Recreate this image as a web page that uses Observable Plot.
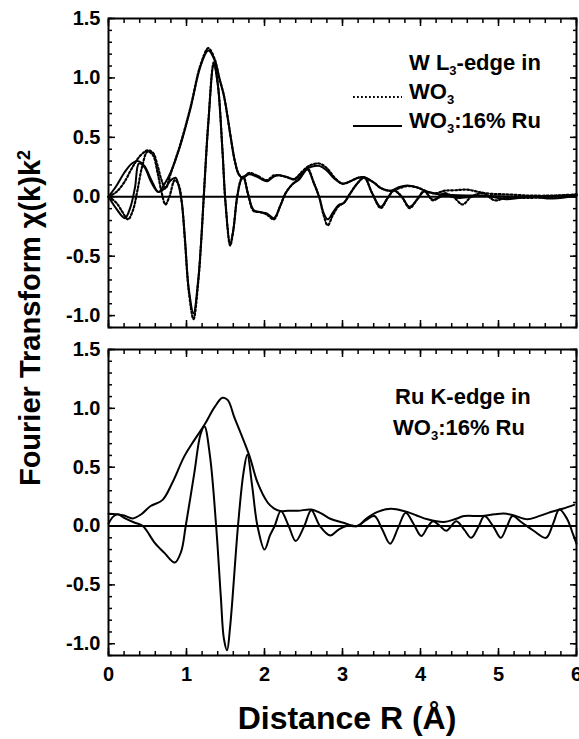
<!DOCTYPE html>
<html><head><meta charset="utf-8">
<script src="https://cdn.jsdelivr.net/npm/d3@7"></script>
<script src="https://cdn.jsdelivr.net/npm/@observablehq/plot@0.6"></script>
<style>
body{margin:0;background:#fff;}
#wrap{position:relative;width:579px;height:739px;font-family:"Liberation Sans",Arial,sans-serif;font-weight:bold;color:#000;overflow:hidden;}
.abs{position:absolute;white-space:nowrap;}
.ann{font-size:22px;line-height:1;}
.ann sub{font-size:13px;vertical-align:-5px;line-height:0;}
</style></head><body><div id="wrap"></div>
<script>
// ---------- data (R in Å, FT value) ----------
const xTicks = [0, 1, 2, 3, 4, 5, 6];
const yTicks = [-1.0, -0.5, 0.0, 0.5, 1.0, 1.5];

// Top panel: W L3-edge, WO3:16% Ru (solid) magnitude and imaginary part
const wRuMag = [[0,0.0],[0.1,0.09],[0.2,0.2],[0.3,0.28],[0.38,0.30],[0.46,0.26],[0.55,0.14],[0.64,0.04],[0.72,0.11],[0.8,0.21],[0.92,0.43],[1.05,0.74],[1.18,1.10],[1.28,1.23],[1.36,1.15],[1.42,1.0],[1.48,0.85],[1.52,0.7],[1.56,0.53],[1.62,0.30],[1.67,0.19],[1.72,0.16],[1.8,0.19],[1.9,0.17],[2.03,0.13],[2.12,0.17],[2.2,0.18],[2.3,0.165],[2.38,0.145],[2.48,0.2],[2.57,0.245],[2.7,0.26],[2.8,0.22],[2.9,0.15],[3.0,0.11],[3.1,0.13],[3.2,0.16],[3.28,0.165],[3.4,0.12],[3.5,0.07],[3.62,0.05],[3.72,0.08],[3.83,0.095],[3.95,0.08],[4.1,0.04],[4.25,0.02],[4.4,0.015],[4.7,0.01],[5.0,0.005],[5.3,0.0],[5.6,0.005],[5.85,0.01],[6.0,0.02]];
const wRuIm = [[0,0],[0.1,-0.1],[0.21,-0.18],[0.28,-0.09],[0.34,0.08],[0.39,0.28],[0.46,0.25],[0.55,0.12],[0.64,0.04],[0.72,0.07],[0.8,0.14],[0.86,0.16],[0.9,0.09],[0.94,-0.05],[0.98,-0.35],[1.03,-0.78],[1.09,-0.98],[1.15,-0.7],[1.19,-0.35],[1.23,0.1],[1.28,0.62],[1.35,1.11],[1.4,0.95],[1.46,0.4],[1.5,-0.05],[1.56,-0.40],[1.6,-0.28],[1.65,0.0],[1.7,0.14],[1.73,0.16],[1.79,0.02],[1.86,-0.11],[1.95,-0.13],[2.03,-0.14],[2.12,-0.18],[2.2,-0.08],[2.27,0.03],[2.35,0.1],[2.45,0.15],[2.55,0.23],[2.63,0.12],[2.7,0.0],[2.76,-0.14],[2.81,-0.19],[2.88,-0.13],[2.95,-0.07],[3.02,-0.05],[3.1,0.03],[3.2,0.12],[3.28,0.165],[3.38,0.03],[3.49,-0.085],[3.58,-0.01],[3.66,0.055],[3.76,0.0],[3.86,-0.085],[3.96,-0.02],[4.05,0.045],[4.16,-0.025],[4.3,0.01],[4.5,-0.01],[4.8,0.01],[5.1,-0.02],[5.4,0.0],[5.7,-0.015],[6.0,0.01]];

// Top panel: W L3-edge, WO3 (dotted) magnitude and imaginary part
const wo3Mag = [[0,0],[0.1,0.04],[0.2,0.12],[0.3,0.24],[0.4,0.34],[0.5,0.39],[0.57,0.37],[0.63,0.26],[0.68,0.14],[0.73,0.07],[0.8,0.2],[0.92,0.44],[1.05,0.75],[1.18,1.11],[1.28,1.25],[1.36,1.16],[1.42,1.0],[1.48,0.85],[1.52,0.7],[1.56,0.53],[1.62,0.30],[1.67,0.19],[1.72,0.16],[1.8,0.2],[1.9,0.18],[2.03,0.14],[2.12,0.18],[2.2,0.18],[2.3,0.16],[2.38,0.15],[2.48,0.21],[2.57,0.26],[2.7,0.28],[2.8,0.24],[2.9,0.16],[3.0,0.11],[3.1,0.13],[3.2,0.16],[3.28,0.16],[3.4,0.12],[3.5,0.07],[3.62,0.05],[3.72,0.07],[3.83,0.09],[3.95,0.08],[4.1,0.04],[4.2,0.03],[4.3,0.05],[4.45,0.055],[4.6,0.06],[4.75,0.04],[4.9,0.025],[5.1,0.02],[5.4,0.01],[5.7,0.01],[6.0,0.02]];
const wo3Im = [[0,0],[0.1,-0.05],[0.18,-0.13],[0.25,-0.19],[0.31,-0.12],[0.37,0.05],[0.43,0.25],[0.5,0.38],[0.57,0.35],[0.63,0.2],[0.68,0.04],[0.73,-0.065],[0.78,0.0],[0.85,0.14],[0.9,0.1],[0.94,-0.05],[0.98,-0.37],[1.03,-0.8],[1.09,-1.03],[1.15,-0.72],[1.19,-0.36],[1.23,0.1],[1.28,0.63],[1.35,1.13],[1.4,0.96],[1.46,0.4],[1.5,-0.05],[1.56,-0.41],[1.6,-0.28],[1.65,0.0],[1.7,0.15],[1.73,0.17],[1.79,0.02],[1.86,-0.12],[1.95,-0.13],[2.03,-0.15],[2.12,-0.19],[2.2,-0.08],[2.27,0.03],[2.35,0.1],[2.45,0.16],[2.55,0.24],[2.63,0.12],[2.7,0.0],[2.76,-0.16],[2.81,-0.24],[2.88,-0.15],[2.95,-0.08],[3.02,-0.05],[3.1,0.03],[3.2,0.12],[3.28,0.16],[3.38,0.03],[3.49,-0.095],[3.58,-0.01],[3.66,0.05],[3.76,0.0],[3.86,-0.095],[3.96,-0.02],[4.05,0.05],[4.16,-0.03],[4.3,0.03],[4.42,0.0],[4.54,-0.065],[4.65,0.0],[4.8,0.03],[4.95,-0.03],[5.1,-0.01],[5.4,-0.01],[5.7,0.0],[6.0,0.01]];

// Bottom panel: Ru K-edge in WO3:16% Ru, magnitude and imaginary part
const ruMag = [[0,0.105],[0.1,0.1],[0.2,0.09],[0.31,0.065],[0.42,0.1],[0.54,0.17],[0.69,0.22],[0.82,0.37],[0.97,0.59],[1.1,0.73],[1.23,0.86],[1.36,1.01],[1.46,1.09],[1.53,1.07],[1.61,0.93],[1.7,0.78],[1.81,0.59],[1.91,0.37],[2.04,0.2],[2.12,0.15],[2.2,0.127],[2.3,0.13],[2.43,0.13],[2.6,0.14],[2.72,0.11],[2.85,0.06],[3.0,0.03],[3.19,0.0],[3.3,0.06],[3.45,0.12],[3.62,0.147],[3.83,0.12],[3.95,0.09],[4.09,0.057],[4.3,0.035],[4.45,0.06],[4.56,0.085],[4.78,0.085],[4.95,0.1],[5.07,0.107],[5.2,0.09],[5.37,0.057],[5.5,0.08],[5.63,0.11],[5.82,0.147],[5.97,0.18]];
const ruIm = [[0,0.02],[0.06,0.08],[0.12,0.10],[0.2,0.07],[0.33,0.03],[0.44,0.0],[0.59,-0.14],[0.72,-0.23],[0.85,-0.31],[0.93,-0.22],[0.99,0.0],[1.1,0.45],[1.18,0.78],[1.23,0.845],[1.3,0.6],[1.38,0.0],[1.44,-0.6],[1.48,-0.96],[1.52,-1.055],[1.56,-0.85],[1.66,0.0],[1.73,0.45],[1.78,0.605],[1.84,0.35],[1.91,0.0],[2.0,-0.20],[2.07,-0.08],[2.13,0.0],[2.21,0.127],[2.31,0.0],[2.4,-0.127],[2.51,0.0],[2.6,0.135],[2.71,0.0],[2.84,-0.08],[2.95,-0.03],[3.05,0.0],[3.19,0.0],[3.3,0.05],[3.41,0.085],[3.51,-0.03],[3.61,-0.15],[3.71,-0.02],[3.81,0.113],[3.91,0.02],[4.01,-0.085],[4.09,-0.01],[4.16,0.04],[4.25,0.0],[4.33,-0.04],[4.46,0.04],[4.56,-0.03],[4.65,-0.1],[4.74,-0.01],[4.82,0.085],[4.93,0.0],[5.03,-0.1],[5.11,0.0],[5.18,0.085],[5.3,0.03],[5.45,-0.04],[5.61,-0.1],[5.7,0.02],[5.78,0.14],[5.88,0.06],[5.95,-0.06],[6.0,-0.15]];

// ---------- drawing ----------
(function () {
const W = 579;
const wrap = document.getElementById("wrap");
const minorX = d3.range(0, 31).map(i => i / 5);
const minorY = d3.range(-11, 16).map(i => i / 10);
const fmt = d => d.toFixed(1);
const blank = () => "";

function line(data, dashed) {
  return Plot.line(data, {x: d => d[0], y: d => d[1], curve: "catmull-rom", stroke: "#000", strokeWidth: dashed ? 2.2 : 2, strokeDasharray: dashed ? "1.8,2.2" : null});
}

// inward ticks: positive tick length, shifted inside the frame by the same length
function inwardTicks(size, xt, yt) {
  const o = {tickFormat: blank, label: null, strokeWidth: 1.5, tickSize: size};
  return [
    Plot.axisX({...o, anchor: "bottom", ticks: xt, dy: -size}),
    Plot.axisX({...o, anchor: "top", ticks: xt, dy: size}),
    Plot.axisY({...o, anchor: "left", ticks: yt, dx: size}),
    Plot.axisY({...o, anchor: "right", ticks: yt, dx: -size})
  ];
}

function panel({height, marginTop, marginBottom, curves, xLabels}) {
  const marks = [
    Plot.ruleY([0], {strokeWidth: 2}),
    ...curves,
    Plot.frame({strokeWidth: 2}),
    ...inwardTicks(7, xTicks, yTicks),
    ...inwardTicks(4, minorX, minorY),
    Plot.axisY({anchor: "left", ticks: yTicks, tickSize: 0, tickPadding: 8, tickFormat: fmt, label: null})
  ];
  if (xLabels) marks.push(Plot.axisX({anchor: "bottom", ticks: xTicks, tickSize: 0, tickPadding: 11, tickFormat: d => String(d), label: null}));
  return Plot.plot({
    width: W, height, marginTop, marginBottom, marginLeft: 108, marginRight: 3,
    style: {fontFamily: '"Liberation Sans", Arial, sans-serif', fontWeight: "bold", fontSize: "20px", color: "#000", background: "transparent", overflow: "visible"},
    x: {domain: [0, 6]},
    y: {domain: [-1.1, 1.5]},
    marks
  });
}

function place(el, left, topPx) {
  const d = document.createElement("div");
  d.className = "abs";
  d.style.left = left + "px";
  d.style.top = topPx + "px";
  d.appendChild(el);
  wrap.appendChild(d);
  return d;
}

const topPanel = panel({height: 340, marginTop: 18, marginBottom: 13, xLabels: false,
  curves: [line(wo3Mag, true), line(wo3Im, true), line(wRuMag, false), line(wRuIm, false)]});
place(topPanel, 0, 0);

const bottomPanel = panel({height: 399, marginTop: 9, marginBottom: 84, xLabels: true,
  curves: [line(ruMag, false), line(ruIm, false)]});
place(bottomPanel, 0, 340);

function html(str, left, topPx, cls) {
  const d = document.createElement("div");
  d.className = "abs " + (cls || "");
  d.style.left = left + "px";
  d.style.top = topPx + "px";
  d.innerHTML = str;
  wrap.appendChild(d);
  return d;
}

// annotations / legend (top panel)
html("W L<sub>3</sub>-edge in", 409, 52, "ann");
html("WO<sub>3</sub>", 409, 81, "ann");
html("WO<sub>3</sub>:16% Ru", 409, 110, "ann");
html('<svg width="52" height="6"><line x1="1" y1="3" x2="50" y2="3" stroke="#000" stroke-width="2" stroke-dasharray="1.8,2.2"/></svg>', 352, 86);
html('<svg width="52" height="6"><line x1="1" y1="3" x2="50" y2="3" stroke="#000" stroke-width="2"/></svg>', 352, 115);

// annotations (bottom panel)
html("Ru K-edge in", 395, 386, "ann");
html("WO<sub>3</sub>:16% Ru", 393, 417, "ann");

// axis titles
const yt = html('Fourier Transform &chi;(k)k<sup style="font-size:18px;vertical-align:10px;line-height:0">2</sup>', 30, 318);
yt.style.fontSize = "29px";
yt.style.transform = "translate(-50%,-50%) rotate(-90deg)";
yt.style.lineHeight = "1";

const xt = html("Distance R (&Aring;)", 347, 718);
xt.style.fontSize = "32px";
xt.style.transform = "translate(-50%,-50%)";
xt.style.lineHeight = "1";
})();
</script>
</body></html>
